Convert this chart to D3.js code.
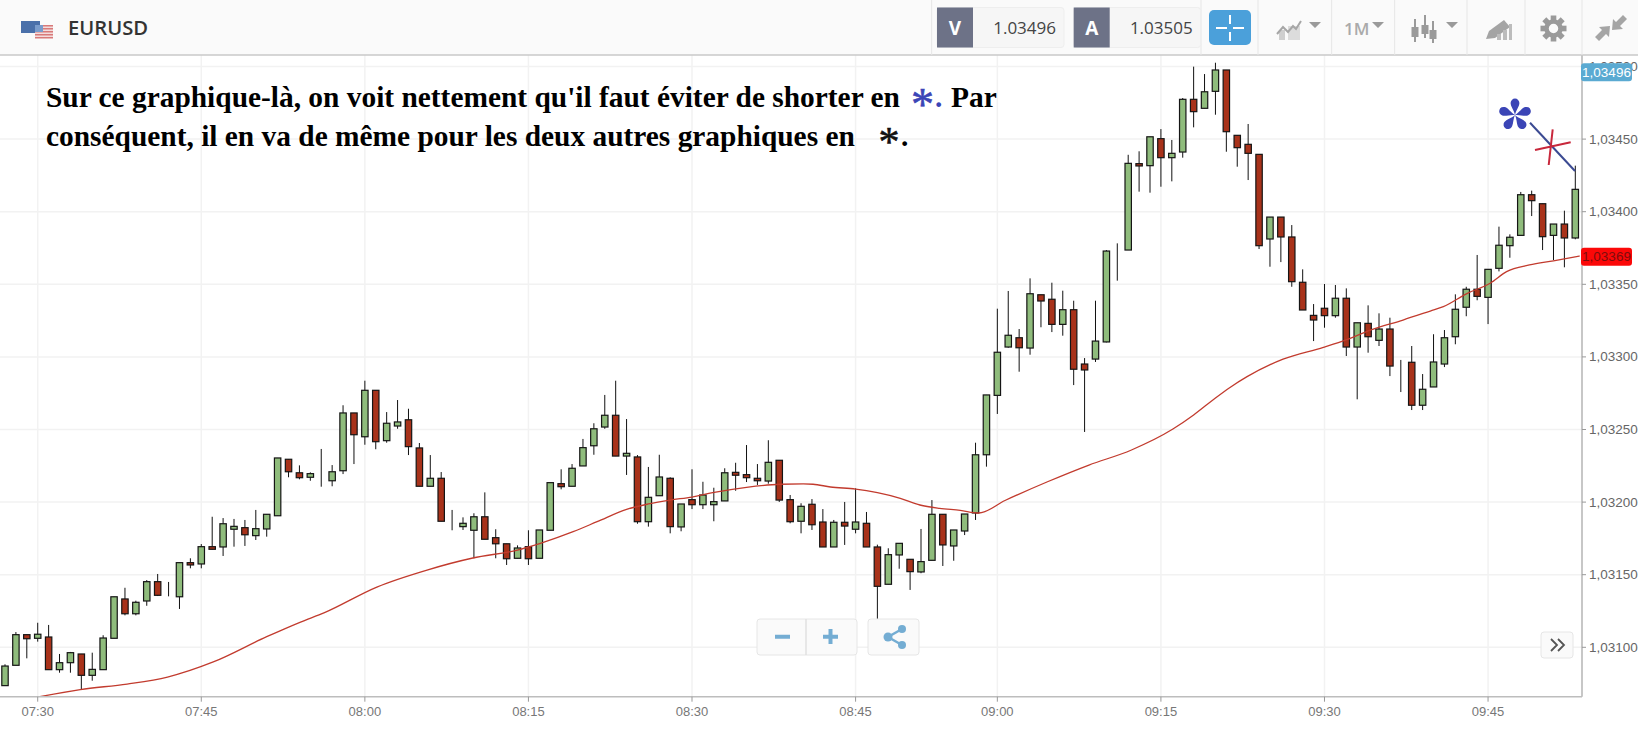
<!DOCTYPE html>
<html>
<head>
<meta charset="utf-8">
<script src="https://cdn.jsdelivr.net/npm/d3@7"></script>
<style>
html,body{margin:0;padding:0;background:#fff;overflow:hidden}
svg{display:block}
</style>
</head>
<body>
<svg id="c" width="1638" height="729"></svg>
<script>
// Prices are stored as 1/100000 above 1.03000
const priceBase = 1.03;
const opens = [73.6,87.6,108.7,106.2,107.1,84.6,89.4,95.4,80.7,84.6,106.2,133.3,123.1,131.9,145.2,135.1,134.8,158.3,157.4,169.3,169.1,181.3,182.4,176.9,181.5,190.6,229.5,220.2,217.1,220.2,214.7,221.6,261.4,245.0,277.0,242.3,252.4,256.7,237.3,210.9,216.4,185.4,183.1,180.6,189.9,175.5,171.3,161.3,169.3,161.3,180.6,212.7,210.9,224.9,238.8,251.7,259.8,231.7,231.1,186.5,204.4,216.4,182.9,201.7,198.2,198.2,200.8,220.5,218.9,216.4,214.5,228.8,201.7,186.8,198.5,186.3,169.1,186.1,181.3,185.4,169.1,143.4,163.6,160.6,151.9,159.9,191.6,169.8,180.1,192.5,232.6,273.5,306.8,313.2,306.1,342.8,339.7,322.4,332.5,295.1,298.5,310.3,372.9,373.6,433.1,431.7,450.3,437.2,441.1,477.4,471.2,482.9,497.6,452.6,446.4,439.5,381.2,396.3,382.6,351.4,328.6,333.5,328.4,340.4,306.8,323.1,311.4,319.2,294.2,296.3,266.7,279.3,295.1,313.9,334.2,346.6,341.0,361.0,376.6,383.7,411.7,405.5,383.7,391.5,381.9];
const highs = [88.3,110.5,108.7,116.9,115.4,95.4,96.8,95.4,96.3,108.3,134.8,141.0,132.1,146.3,150.5,145.0,158.3,161.3,171.1,189.9,189.0,188.4,187.7,194.6,191.6,230.4,229.5,225.3,220.5,236.6,225.5,266.7,261.4,283.6,277.0,262.0,270.3,264.3,240.7,232.4,220.7,194.6,189.5,192.3,206.7,181.3,171.3,170.2,180.6,180.8,213.4,222.6,226.2,243.5,254.3,273.8,283.6,257.2,232.4,224.2,232.6,217.1,198.7,222.6,214.0,209.9,223.3,227.1,239.3,226.2,242.6,228.8,204.9,199.2,202.1,195.2,187.7,200.1,209.5,193.2,170.7,168.2,171.6,160.6,181.5,201.4,191.6,180.8,191.8,240.9,273.8,333.2,345.4,319.2,354.1,342.8,351.1,345.6,338.7,299.2,338.7,373.6,378.2,439.2,441.6,451.6,456.9,449.4,478.3,499.9,494.8,502.6,497.6,452.6,460.4,439.5,396.3,396.3,390.8,360.3,336.4,350.2,349.5,347.2,323.5,335.5,330.0,327.0,297.9,307.5,288.2,315.6,318.5,343.1,348.3,370.2,360.3,389.7,384.4,413.6,414.5,405.5,391.5,400.7,431.7];
const lows = [73.6,87.6,92.4,103.9,84.6,82.5,82.5,71.1,77.0,84.6,106.2,122.0,122.0,128.6,135.3,135.1,126.4,154.4,154.4,167.5,162.9,169.3,169.8,173.9,176.2,190.6,217.1,215.7,214.7,210.6,210.9,219.3,226.2,239.5,236.4,240.9,250.5,232.4,210.9,210.9,186.8,180.6,180.8,161.3,174.4,161.3,156.7,161.3,156.7,161.3,180.6,208.8,210.9,224.9,232.6,250.5,231.7,218.7,185.1,183.1,204.2,178.5,179.9,195.2,195.2,186.8,200.8,207.8,213.8,211.8,212.7,200.1,185.4,178.5,180.8,169.1,169.1,170.5,178.5,169.1,119.5,143.4,154.1,139.5,151.0,159.9,156.0,159.6,177.3,187.7,224.4,260.7,306.3,289.8,301.5,320.4,317.1,314.6,280.6,248.3,296.5,310.0,352.5,373.6,413.8,413.1,417.2,420.9,437.2,458.1,471.2,466.8,441.3,431.0,421.8,374.3,362.1,365.3,348.3,332.3,310.9,320.1,327.0,300.6,270.8,302.9,307.5,286.8,275.8,263.4,263.4,279.3,293.0,308.7,328.0,339.0,322.6,358.9,368.3,383.7,397.0,373.6,366.7,361.7,381.0];
const closes = [87.1,108.7,105.9,109.0,84.6,89.4,96.3,80.7,84.8,106.4,134.8,123.1,131.0,145.2,135.8,135.1,158.3,156.7,169.3,167.5,185.1,183.3,177.5,181.7,191.6,230.4,220.9,216.8,219.6,220.2,220.9,261.4,246.4,277.0,241.6,254.3,255.2,238.2,210.9,216.4,186.8,185.4,185.4,189.9,174.4,171.3,161.0,168.4,161.0,180.8,213.4,210.6,223.3,237.5,250.5,259.8,231.7,233.6,186.5,203.3,217.3,183.1,198.7,198.2,204.9,200.3,220.2,218.5,216.8,214.7,227.4,201.4,186.5,197.1,184.4,169.1,186.1,183.5,186.3,169.1,142.0,163.8,171.6,152.1,159.0,191.6,170.5,180.8,191.8,232.6,273.8,303.2,314.9,306.3,343.5,338.5,322.4,332.5,291.5,291.0,310.9,372.9,372.9,433.3,431.5,451.6,437.2,440.2,477.4,468.9,482.6,497.6,455.1,444.1,440.2,376.6,396.3,382.6,351.8,332.3,325.4,328.4,340.4,306.8,323.5,313.9,319.2,293.7,294.2,266.7,277.7,296.5,313.2,332.8,346.6,341.7,360.3,376.9,382.4,411.7,407.6,382.8,391.5,381.9,415.4];

// Moving average, sampled at fractional candle positions
const maCandle = [3.2,6.9,11.2,14.9,19.1,24.0,27.1,29.3,34.1,38.7,42.9,47.0,49.1,52.1,54.3,57.0,59.0,61.0,63.0,64.9,68.0,71.1,73.2,74.1,75.7,78.0,80.0,82.1,83.9,85.7,87.6,89.3,91.7,95.6,99.4,103.3,107.1,109.0,111.0,112.3,113.9,117.2,120.9,123.1,125.2,128.2,130.7,131.9,134.1,136.2,137.7,139.8,142.0,144.4];
const maValue = [66.0,70.9,74.7,79.5,89.9,107.3,117.4,123.9,141.5,153.2,161.5,167.0,171.6,179.6,186.5,195.0,198.7,201.4,203.5,206.5,210.2,212.3,212.5,212.3,210.4,209.0,206.5,202.6,198.0,195.7,194.3,192.5,201.1,214.0,225.5,235.9,250.3,260.0,271.7,278.8,286.4,298.5,306.6,312.1,318.5,325.4,331.6,334.6,343.8,350.7,358.7,363.3,366.2,369.5];

const priceTicks = [1.03100,1.03150,1.03200,1.03250,1.03300,1.03350,1.03400,1.03450,1.03500];
const priceTickLabels = ["1,03100","1,03150","1,03200","1,03250","1,03300","1,03350","1,03400","1,03450","1,03500"];
const timeTickCandles = [3,18,33,48,63,78,91,106,121,136];
const timeTickLabels = ["07:30","07:45","08:00","08:15","08:30","08:45","09:00","09:15","09:30","09:45"];
const symbol = "EURUSD";
const bid = "1.03496", ask = "1.03505";
const lastPriceLabel = "1,03496", lastPrice = 1.03496;
const maLabel = "1,03369", maLast = 1.03369;
const line1a = "Sur ce graphique-là, on voit nettement qu'il faut éviter de shorter en";
const line1b = "Par";
const line2 = "conséquent, il en va de même pour les deux autres graphiques en";

const AXX = 1582, AXB = 696.7, TOP = 55;
const svg = d3.select("#c");
const x = d3.scaleLinear().domain([0,144]).range([5,1575.3]);
const y = d3.scaleLinear().domain([1.031,1.034]).range([647.3,211.7]);
const P = v => priceBase + v/1e5;

svg.append("defs").append("clipPath").attr("id","plot").append("rect")
  .attr("x",0).attr("y",TOP).attr("width",AXX).attr("height",AXB-TOP);

// grid
const grid = svg.append("g").attr("stroke","#f2f2f2").attr("stroke-width",1.5);
grid.selectAll(".h").data(priceTicks).join("line").attr("x1",0).attr("x2",AXX).attr("y1",d=>y(d)).attr("y2",d=>y(d));
grid.selectAll(".v").data(timeTickCandles).join("line").attr("y1",TOP).attr("y2",AXB).attr("x1",d=>x(d)).attr("x2",d=>x(d));

// candles
const plot = svg.append("g").attr("clip-path","url(#plot)");
const idx = d3.range(opens.length);
plot.selectAll(".w").data(idx).join("line")
  .attr("x1",i=>x(i)).attr("x2",i=>x(i))
  .attr("y1",i=>y(P(highs[i]))).attr("y2",i=>y(P(lows[i])))
  .attr("stroke","#111").attr("stroke-width",1);
plot.selectAll(".b").data(idx).join("rect")
  .attr("x",i=>x(i)-3.2).attr("width",6.4)
  .attr("y",i=>y(P(Math.max(opens[i],closes[i]))))
  .attr("height",i=>Math.abs(y(P(opens[i]))-y(P(closes[i]))))
  .attr("fill",i=>closes[i]>=opens[i]?"#8fbc7c":"#a8321a")
  .attr("stroke",i=>opens[i]===closes[i]?"#666":"#151515").attr("stroke-width",1.2);

// moving average
plot.append("path").datum(d3.range(maCandle.length))
  .attr("fill","none").attr("stroke","#c23b2e").attr("stroke-width",1.3)
  .attr("d",d3.line().x(i=>x(maCandle[i])).y(i=>y(P(maValue[i]))).curve(d3.curveMonotoneX));

// axes
svg.append("line").attr("x1",AXX).attr("x2",AXX).attr("y1",TOP).attr("y2",AXB).attr("stroke","#b5b5b5").attr("stroke-width",1.5);
svg.append("line").attr("x1",0).attr("x2",AXX).attr("y1",AXB).attr("y2",AXB).attr("stroke","#bdbdbd").attr("stroke-width",1.5);
svg.selectAll(".pt").data(priceTicks).join("line").attr("x1",AXX).attr("x2",AXX+4).attr("y1",d=>y(d)).attr("y2",d=>y(d)).attr("stroke","#999");
svg.selectAll(".pl").data(priceTickLabels).join("text")
  .attr("x",1589).attr("y",(d,i)=>y(priceTicks[i])+4.5)
  .attr("font-family","Liberation Sans").attr("font-size",13.5).attr("fill","#666").text(d=>d);
svg.selectAll(".tt").data(timeTickCandles).join("line").attr("x1",d=>x(d)).attr("x2",d=>x(d)).attr("y1",AXB).attr("y2",AXB+5).attr("stroke","#999");
svg.selectAll(".tl").data(timeTickLabels).join("text")
  .attr("x",(d,i)=>x(timeTickCandles[i])).attr("y",716).attr("text-anchor","middle")
  .attr("font-family","Liberation Sans").attr("font-size",13).attr("fill","#777").text(d=>d);

// price flags
function flag(v,label,fill,txt){
  const yy=y(v);
  svg.append("rect").attr("x",1581).attr("y",yy-9).attr("width",51).attr("height",18).attr("rx",3).attr("fill",fill);
  svg.append("text").attr("x",1606.5).attr("y",yy+4.5).attr("text-anchor","middle")
    .attr("font-family","Liberation Sans").attr("font-size",13.5).attr("fill",txt).text(label);
}
flag(lastPrice,lastPriceLabel,"#5aaad2","#fff");
flag(maLast,maLabel,"#fb0808","#7d0d0d");

// toolbar
svg.append("rect").attr("x",0).attr("y",0).attr("width",1638).attr("height",55).attr("fill","#fafafa");
svg.append("line").attr("x1",0).attr("x2",1638).attr("y1",55).attr("y2",55).attr("stroke","#c8c8c8").attr("stroke-width",1.5);
[931.7,1201,1258,1331.7,1394.7,1467,1525,1582].forEach(v=>svg.append("line").attr("x1",v).attr("x2",v).attr("y1",0).attr("y2",55).attr("stroke","#e6e6e6"));

// flags icon
svg.append("rect").attr("x",21).attr("y",21).attr("width",19).attr("height",12).attr("fill","#4a70aa");
svg.append("rect").attr("x",35).attr("y",25).attr("width",18).attr("height",13).attr("fill","#f3dcdc");
[25,28,31,34,37].forEach(v=>svg.append("rect").attr("x",35).attr("y",v).attr("width",18).attr("height",1.5).attr("fill","#d87a7a"));
svg.append("rect").attr("x",35).attr("y",25).attr("width",8).attr("height",7).attr("fill","#7a9ccc");
svg.append("text").attr("x",68).attr("y",35).attr("font-family","Open Sans").attr("font-weight",600).attr("font-size",20.2).attr("fill","#333").text(symbol);

function quote(xx,letter,val){
  svg.append("rect").attr("x",xx).attr("y",7.5).attr("width",127).attr("height",40).attr("rx",3).attr("fill","#f6f6f6").attr("stroke","#eee");
  svg.append("path").attr("d",`M${xx} 7.5h36v40h-36z`).attr("fill","#6d7287");
  svg.append("text").attr("x",xx+18).attr("y",35).attr("text-anchor","middle").attr("font-family","Open Sans").attr("font-weight",700).attr("font-size",19).attr("fill","#fff").text(letter);
  svg.append("text").attr("x",xx+119).attr("y",34).attr("text-anchor","end").attr("font-family","Open Sans").attr("font-size",17).attr("fill","#444").text(val);
}
quote(937,"V",bid);
quote(1073.7,"A",ask);

// crosshair button
svg.append("rect").attr("x",1209).attr("y",10).attr("width",42).attr("height",35).attr("rx",5).attr("fill","#4ba0da");
svg.append("path").attr("d","M1216 28h11M1233 28h11M1230 15v9M1230 32v9").attr("stroke","#fff").attr("stroke-width",2).attr("fill","none");

// toolbar icons
const ic="#9a9a9a";
svg.append("rect").attr("x",1288).attr("y",26).attr("width",12).attr("height",14).attr("fill","#dcdcdc");
svg.append("rect").attr("x",1279).attr("y",30).attr("width",6).attr("height",10).attr("fill","#cfcfcf");
svg.append("path").attr("d","M1277 34L1283 27L1288 32L1293 26L1296 29L1301 21").attr("fill","none").attr("stroke","#a6a6a6").attr("stroke-width",2);
svg.append("path").attr("d","M1309 22h12l-6 6z M1372 22h12l-6 6z M1446 22h12l-6 6z").attr("fill",ic);
svg.append("text").attr("x",1344).attr("y",35).attr("font-family","Open Sans").attr("font-weight",600).attr("font-size",17).attr("fill","#aaa").text("1M");
[[1415,22,36,19,42],[1425,20,33,15,38],[1433,25,38,21,43]].forEach(d=>{
  svg.append("line").attr("x1",d[0]).attr("x2",d[0]).attr("y1",d[3]).attr("y2",d[4]).attr("stroke",ic).attr("stroke-width",2);
  svg.append("rect").attr("x",d[0]-3.5).attr("y",d[1]+5).attr("width",7).attr("height",d[2]-d[1]-4).attr("fill",ic);
});
svg.append("path").attr("d","M1486 39l3-8 15-11 6 7-15 11z").attr("fill","#a4a4a4");
svg.append("path").attr("d","M1497 40h4v-6h-4zM1503 40h4v-10h-4zM1509 40h3v-16h-3z").attr("fill","#bcbcbc");
// gear
const gear=svg.append("g").attr("transform","translate(1553.5,28.5)");
d3.range(8).forEach(i=>gear.append("rect").attr("x",-2.8).attr("y",-13).attr("width",5.6).attr("height",6).attr("fill",ic).attr("transform",`rotate(${i*45})`));
gear.append("circle").attr("r",7).attr("fill","none").attr("stroke",ic).attr("stroke-width",4.5);
// collapse arrows
svg.append("path").attr("d","M1623 15l-7 7-3-3-1 11 11-1-3-3 7-7z M1599 41l7-7 3 3 1-11-11 1 3 3-7 7z").attr("fill","#a5a5a5");

// headline
const serif="Liberation Serif";
const head=svg.append("g").attr("font-family",serif).attr("font-weight",700).attr("font-size",29.4).attr("fill","#000");
head.append("text").attr("x",46).attr("y",106.5).text(line1a);
head.append("text").attr("x",951).attr("y",106.5).text(line1b);
head.append("text").attr("x",46).attr("y",146).text(line2);
const star=(xx,yy,size,fill)=>svg.append("text").attr("x",xx).attr("y",yy).attr("text-anchor","middle").attr("font-family",serif).attr("font-size",size).attr("fill",fill).attr("stroke",fill).attr("stroke-width",0.6).text("*");
star(922.5,120,46,"#3b45b6");
svg.append("text").attr("x",935).attr("y",106.5).attr("font-family",serif).attr("font-weight",700).attr("font-size",29.4).attr("fill","#3b45b6").text(".");
star(889,156,42,"#111");
svg.append("text").attr("x",901).attr("y",146).attr("font-family",serif).attr("font-weight",700).attr("font-size",29.4).text(".");

// hand annotations
const bigStar=svg.append("g").attr("transform","translate(1515,115)");
d3.range(5).forEach(i=>bigStar.append("path").attr("d","M0 0C-1 -5 -4.4 -8.5 -4.4 -12A4.4 4.4 0 1 1 4.4 -12C4.4 -8.5 1 -5 0 0Z").attr("fill","#3b45b6").attr("transform",`rotate(${i*72})`));
svg.append("line").attr("x1",1530).attr("y1",122.7).attr("x2",1575).attr("y2",171).attr("stroke","#3b4a92").attr("stroke-width",2);
svg.append("path").attr("d","M1535 150L1570.7 142.3M1552.7 129.3L1548.7 165").attr("stroke","#c8283c").attr("stroke-width",2).attr("fill","none");

// bottom controls
function box(x0,y0,w,h){svg.append("rect").attr("x",x0).attr("y",y0).attr("width",w).attr("height",h).attr("rx",3).attr("fill","#fafafa").attr("stroke","#e6e6e6").attr("stroke-width",1);}
const blue="#74add3";
box(757,619,100,36);
svg.append("line").attr("x1",806).attr("x2",806).attr("y1",619).attr("y2",655).attr("stroke","#e0e0e0").attr("stroke-width",1.5);
svg.append("path").attr("d","M775 636.7h15M823 636.7h15M830.5 629v15").attr("stroke",blue).attr("stroke-width",4).attr("fill","none");
box(868,619,51,36);
svg.append("path").attr("d","M902 629L888 637L902 645").attr("stroke",blue).attr("stroke-width",2.5).attr("fill","none");
[[888,637,4.5],[902,629,4],[902,645,4]].forEach(d=>svg.append("circle").attr("cx",d[0]).attr("cy",d[1]).attr("r",d[2]).attr("fill",blue));
box(1541,632,32,26);
svg.append("path").attr("d","M1551 639l6 6-6 6M1558 639l6 6-6 6").attr("stroke","#555").attr("stroke-width",1.8).attr("fill","none");
</script>
</body>
</html>
